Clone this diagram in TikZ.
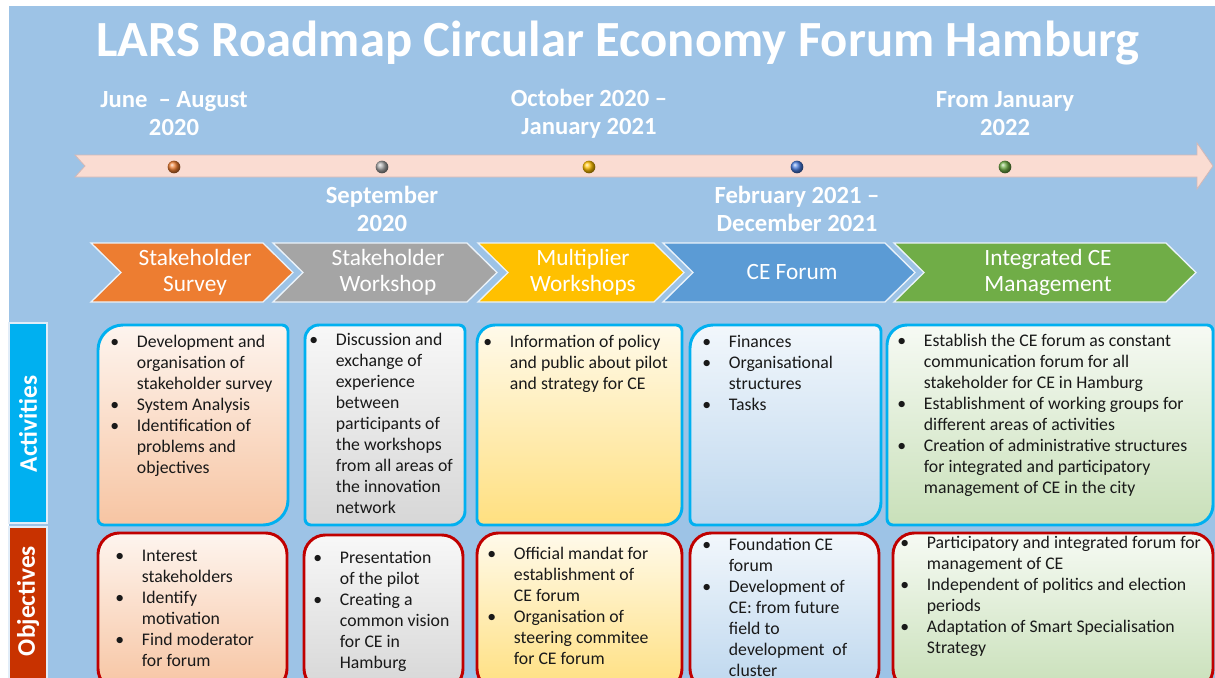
\documentclass[tikz,border=0pt]{standalone}
\usepackage{fontspec}
\setmainfont{Carlito}
\usepackage{array}

\definecolor{slide}{HTML}{9DC3E6}
\definecolor{ribbon}{HTML}{FADCD2}
\definecolor{ribbonline}{HTML}{D4B8B6}
\definecolor{survey}{HTML}{ED7D31}
\definecolor{workshop}{HTML}{A5A5A5}
\definecolor{multiplier}{HTML}{FFC000}
\definecolor{forum}{HTML}{5B9BD5}
\definecolor{integrated}{HTML}{70AD47}
\definecolor{actblue}{HTML}{00B0F0}
\definecolor{objred}{HTML}{C83200}
\definecolor{objline}{HTML}{C00000}

% one row per printed line, the bullet sits in the first column
\newcommand{\points}[1]{%
  \begin{tabular}[t]{@{}p{20pt}@{}l@{}}#1\end{tabular}}

% box with big rounded corners top left and bottom right, small ones elsewhere
% #1 left, #2 top, #3 right, #4 bottom, #5 big radius (px), #6 style
\newcommand{\diagbox}[6]{%
  \draw[#6] (#1,#2+#5) arc[start angle=180, end angle=90, radius=#5*0.75pt]
    -- (#3-6,#2) arc[start angle=90, end angle=0, radius=4.5pt]
    -- (#3,#4-#5) arc[start angle=0, end angle=-90, radius=#5*0.75pt]
    -- (#1+6,#4) arc[start angle=270, end angle=180, radius=4.5pt] -- cycle;}

\begin{document}
\begin{tikzpicture}[x=0.75pt, y=-0.75pt,
    datelabel/.style={text=white, font=\fontsize{18.5}{21}\selectfont\bfseries, align=center},
    phasebox/.style={draw=white!80!slide, line width=1pt},
    phaselabel/.style={text=white, font=\fontsize{17.5}{19.5}\selectfont, align=center},
    milestone/.style={circle, minimum size=9.5pt, inner sep=0pt},
    sidelabel/.style={draw=white!70!slide, line width=0.8pt},
    sidetext/.style={rotate=90, text=white, font=\fontsize{19}{22}\selectfont\bfseries},
    actbox/.style={draw=actblue, line width=2.2pt},
    objbox/.style={draw=objline, line width=2.2pt, rounded corners=16pt},
    bullets/.style={anchor=base west, inner sep=0pt, font=\fontsize{13.3}{15.75}\selectfont, text=black!90}
]
\useasboundingbox (0,0) rectangle (1215,678);
\clip (0,0) rectangle (1215,678);
\fill[white] (0,0) rectangle (1215,678);
\fill[slide] (9,6) rectangle (1215,678);

% title
\node[text=white, font=\fontsize{38}{42}\selectfont\bfseries] (title) at (618,43)
  {LARS Roadmap Circular Economy Forum Hamburg};

% dates above and below the time line
\node[datelabel] (d1) at (174,114) {June\ \ – August\\2020};
\node[datelabel] (d2) at (382,209) {September\\2020};
\node[datelabel] (d3) at (589,114) {October 2020 –\\January 2021};
\node[datelabel] (d4) at (797,209) {February 2021 –\\December 2021};
\node[datelabel] (d5) at (1005,114) {From January\\2022};

% time line
\draw[fill=ribbon, draw=ribbonline, line width=0.6pt]
  (75,155) -- (1197,155) -- (1197,143) -- (1213,166) -- (1197,189)
  -- (1197,177) -- (75,177) -- (85,166) -- cycle;
\node[milestone, ball color=survey] (m1) at (174,167) {};
\node[milestone, ball color=workshop] (m2) at (382,167) {};
\node[milestone, ball color=multiplier] (m3) at (589,167) {};
\node[milestone, ball color=forum!80!blue] (m4) at (797,167) {};
\node[milestone, ball color=integrated] (m5) at (1005,167) {};

% phases
\draw[phasebox, fill=survey] (91,243) -- (263,243) -- (293,272.5) -- (263,302) -- (91,302) -- (121,272.5) -- cycle;
\draw[phasebox, fill=workshop] (273,243) -- (467,243) -- (497,272.5) -- (467,302) -- (273,302) -- (303,272.5) -- cycle;
\draw[phasebox, fill=multiplier] (478,243) -- (654,243) -- (684,272.5) -- (654,302) -- (478,302) -- (508,272.5) -- cycle;
\draw[phasebox, fill=forum] (663,243) -- (885,243) -- (915,272.5) -- (885,302) -- (663,302) -- (693,272.5) -- cycle;
\draw[phasebox, fill=integrated] (894,243) -- (1166,243) -- (1196,272.5) -- (1166,302) -- (894,302) -- (924,272.5) -- cycle;
\node[phaselabel] (p1) at (195,272) {Stakeholder\\Survey};
\node[phaselabel] (p2) at (388,272) {Stakeholder\\Workshop};
\node[phaselabel] (p3) at (583,272) {Multiplier\\Workshops};
\node[phaselabel] (p4) at (792,272) {CE Forum};
\node[phaselabel] (p5) at (1048,272) {Integrated CE\\Management};

% row headers
\draw[sidelabel, fill=actblue] (9,323) rectangle (47,523);
\node[sidetext] (activities) at (28,424) {Activities};
\draw[sidelabel, fill=objred] (9,527) rectangle (47,700);
\node[sidetext] (objectives) at (28,601) {Objectives};

% activities
\diagbox{98}{325}{288}{525}{25}{actbox, top color=survey!8, bottom color=survey!45}
\diagbox{305}{325}{465}{525}{14}{actbox, top color=workshop!8, bottom color=workshop!45}
\diagbox{477}{325}{682}{525}{18}{actbox, top color=multiplier!8, bottom color=multiplier!50}
\diagbox{690}{325}{881}{525}{23}{actbox, top color=forum!8, bottom color=forum!40}
\diagbox{887}{325}{1213}{525}{20}{actbox, top color=integrated!6, bottom color=integrated!38}

\node[bullets] (a1) at (110,347) {\points{%
  \textbullet & Development and\\ & organisation of\\ & stakeholder survey\\
  \textbullet & System Analysis\\
  \textbullet & Identification of\\ & problems and\\ & objectives}};
\node[bullets] (a2) at (309,345) {\points{%
  \textbullet & Discussion and\\ & exchange of\\ & experience\\ & between\\
  & participants of\\ & the workshops\\ & from all areas of\\ & the innovation\\ & network}};
\node[bullets] (a3) at (483,347) {\points{%
  \textbullet & Information of policy\\ & and public about pilot\\ & and strategy for CE}};
\node[bullets] (a4) at (702,347) {\points{%
  \textbullet & Finances\\
  \textbullet & Organisational\\ & structures\\
  \textbullet & Tasks}};
\node[bullets] (a5) at (897,346) {\points{%
  \textbullet & Establish the CE forum as constant\\ & communication forum for all\\
  & stakeholder for CE in Hamburg\\
  \textbullet & Establishment of working groups for\\ & different areas of activities\\
  \textbullet & Creation of administrative structures\\ & for integrated and participatory\\
  & management of CE in the city}};

% objectives
\draw[objbox, top color=survey!8, bottom color=survey!45] (98,533) rectangle (287,690);
\draw[objbox, top color=workshop!8, bottom color=workshop!45] (304,535) rectangle (463,690);
\draw[objbox, top color=multiplier!8, bottom color=multiplier!50] (477,533) rectangle (682,690);
\draw[objbox, top color=forum!8, bottom color=forum!40] (690,533) rectangle (879,690);
\draw[objbox, top color=integrated!6, bottom color=integrated!38] (893,533) rectangle (1213,690);

\node[bullets] (o1) at (115,561) {\points{%
  \textbullet & Interest\\ & stakeholders\\
  \textbullet & Identify\\ & motivation\\
  \textbullet & Find moderator\\ & for forum}};
\node[bullets] (o2) at (313,563) {\points{%
  \textbullet & Presentation\\ & of the pilot\\
  \textbullet & Creating a\\ & common vision\\ & for CE in\\ & Hamburg}};
\node[bullets] (o3) at (487,559) {\points{%
  \textbullet & Official mandat for\\ & establishment of\\ & CE forum\\
  \textbullet & Organisation of\\ & steering commitee\\ & for CE forum}};
\node[bullets] (o4) at (702,550) {\points{%
  \textbullet & Foundation CE\\ & forum\\
  \textbullet & Development of\\ & CE: from future\\ & field to\\ & development\ \ of\\ & cluster}};
\node[bullets] (o5) at (900,548) {\points{%
  \textbullet & Participatory and integrated forum for\\ & management of CE\\
  \textbullet & Independent of politics and election\\ & periods\\
  \textbullet & Adaptation of Smart Specialisation\\ & Strategy}};
\end{tikzpicture}
\end{document}
